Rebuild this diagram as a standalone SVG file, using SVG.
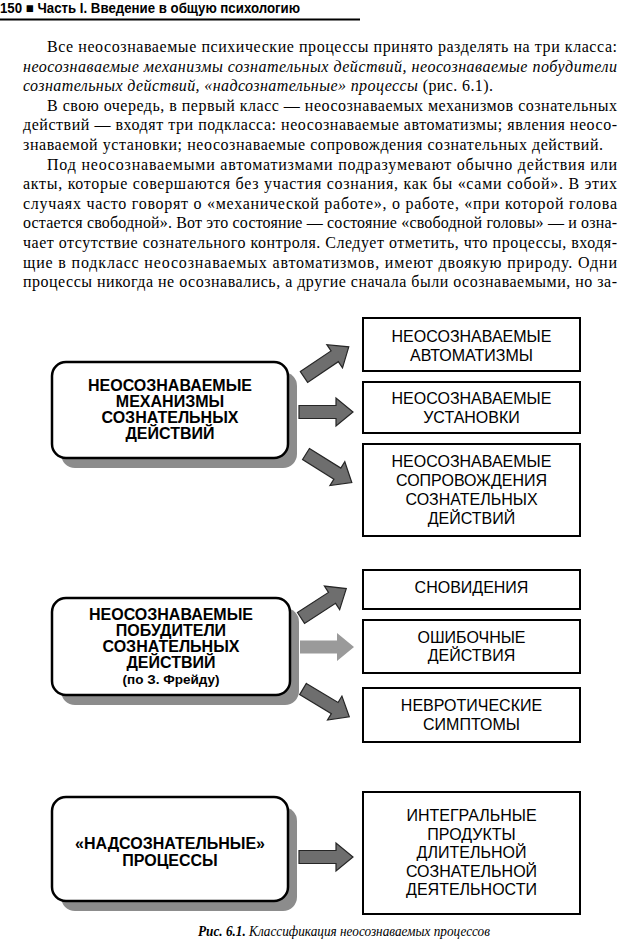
<svg xmlns="http://www.w3.org/2000/svg" width="620" height="941" viewBox="0 0 620 941">
<style>
.hdr{font-family:"Liberation Sans",Arial,sans-serif;font-weight:bold;font-size:14px;fill:#000}
.p{font-family:"Liberation Serif","Times New Roman",serif;font-size:16px;fill:#000}
.it{font-style:italic}
.lb{font-family:"Liberation Sans",Arial,sans-serif;font-weight:bold;font-size:16px;fill:#000;text-anchor:middle}
.rb{font-family:"Liberation Sans",Arial,sans-serif;font-size:16px;fill:#000;text-anchor:middle}
.sub{font-size:13.5px}
.rbox{fill:#fff;stroke:#000;stroke-width:2}
.lbox{fill:#fff;stroke:#000;stroke-width:2.5}
.shadow{fill:#8c8c8c}
.arrow{fill:#6e6e6e;stroke:#262626;stroke-width:1.2;stroke-linejoin:miter}
.arrow-light{fill:#9a9a9a;stroke:none}
.cap{font-family:"Liberation Serif","Times New Roman",serif;font-size:14.5px;font-style:italic;fill:#000}
</style>
<defs>
<path id="arr" d="M0,-6.5 H37 V-14 L54,0 L37,14 V6.5 H0 Z"/>
</defs>
<rect x="0" y="0" width="620" height="941" fill="#fff"/>

<g id="header">
<text class="hdr" x="0" y="13" textLength="300" lengthAdjust="spacingAndGlyphs">150 ■ Часть I. Введение в общую психологию</text>
<line x1="0" y1="19.5" x2="360" y2="19.5" stroke="#000" stroke-width="1.8"/>
</g>

<g id="body-text" class="p">
<text x="47" y="52" textLength="570" lengthAdjust="spacing">Все неосознаваемые психические процессы принято разделять на три класса:</text>
<text x="23" y="71.6" class="it" textLength="594" lengthAdjust="spacing">неосознаваемые механизмы сознательных действий, неосознаваемые побудители</text>
<text x="23" y="91.2" textLength="470" lengthAdjust="spacing"><tspan class="it">сознательных действий, «надсознательные» процессы</tspan> (рис. 6.1).</text>
<text x="47" y="110.8" textLength="570" lengthAdjust="spacing">В свою очередь, в первый класс — неосознаваемых механизмов сознательных</text>
<text x="23" y="130.4" textLength="594" lengthAdjust="spacing">действий — входят три подкласса: неосознаваемые автоматизмы; явления неосо-</text>
<text x="23" y="150" textLength="580" lengthAdjust="spacing">знаваемой установки; неосознаваемые сопровождения сознательных действий.</text>
<text x="47" y="169.6" textLength="570" lengthAdjust="spacing">Под неосознаваемыми автоматизмами подразумевают обычно действия или</text>
<text x="23" y="189.2" textLength="594" lengthAdjust="spacing">акты, которые совершаются без участия сознания, как бы «сами собой». В этих</text>
<text x="23" y="208.8" textLength="594" lengthAdjust="spacing">случаях часто говорят о «механической работе», о работе, «при которой голова</text>
<text x="23" y="228.4" textLength="594" lengthAdjust="spacing">остается свободной». Вот это состояние — состояние «свободной головы» — и озна-</text>
<text x="23" y="248" textLength="594" lengthAdjust="spacing">чает отсутствие сознательного контроля. Следует отметить, что процессы, входя-</text>
<text x="23" y="267.6" textLength="594" lengthAdjust="spacing">щие в подкласс неосознаваемых автоматизмов, имеют двоякую природу. Одни</text>
<text x="23" y="287.2" textLength="594" lengthAdjust="spacing">процессы никогда не осознавались, а другие сначала были осознаваемыми, но за-</text>
</g>

<g id="connectors">
<use href="#arr" class="arrow" transform="translate(304,377) rotate(-34)"/>
<use href="#arr" class="arrow" transform="translate(299,412)"/>
<use href="#arr" class="arrow" transform="translate(306,454) rotate(32)"/>
<use href="#arr" class="arrow" transform="translate(301,618) rotate(-33)"/>
<use href="#arr" class="arrow-light" transform="translate(300,647)"/>
<use href="#arr" class="arrow" transform="translate(303,689) rotate(31)"/>
<use href="#arr" class="arrow" transform="translate(299,857)"/>
</g>

<g id="node-mechanisms">
<rect class="shadow" x="61" y="372" width="236" height="96" rx="14"/>
<rect class="lbox" x="52" y="362" width="236" height="96" rx="14"/>
<text class="lb" x="170" y="391">НЕОСОЗНАВАЕМЫЕ</text>
<text class="lb" x="170" y="407">МЕХАНИЗМЫ</text>
<text class="lb" x="170" y="423">СОЗНАТЕЛЬНЫХ</text>
<text class="lb" x="170" y="439">ДЕЙСТВИЙ</text>
</g>

<g id="node-automatisms">
<rect class="rbox" x="363" y="318" width="217" height="53"/>
<text class="rb" x="471.5" y="342">НЕОСОЗНАВАЕМЫЕ</text>
<text class="rb" x="471.5" y="361">АВТОМАТИЗМЫ</text>
</g>

<g id="node-sets">
<rect class="rbox" x="363" y="382" width="217" height="51"/>
<text class="rb" x="471.5" y="404">НЕОСОЗНАВАЕМЫЕ</text>
<text class="rb" x="471.5" y="423">УСТАНОВКИ</text>
</g>

<g id="node-accompaniments">
<rect class="rbox" x="363" y="444" width="217" height="92"/>
<text class="rb" x="471.5" y="467">НЕОСОЗНАВАЕМЫЕ</text>
<text class="rb" x="471.5" y="486">СОПРОВОЖДЕНИЯ</text>
<text class="rb" x="471.5" y="505">СОЗНАТЕЛЬНЫХ</text>
<text class="rb" x="471.5" y="524">ДЕЙСТВИЙ</text>
</g>

<g id="node-motives">
<rect class="shadow" x="61" y="608" width="238" height="97" rx="14"/>
<rect class="lbox" x="52" y="598" width="238" height="97" rx="14"/>
<text class="lb" x="171" y="620">НЕОСОЗНАВАЕМЫЕ</text>
<text class="lb" x="171" y="636">ПОБУДИТЕЛИ</text>
<text class="lb" x="171" y="652">СОЗНАТЕЛЬНЫХ</text>
<text class="lb" x="171" y="668">ДЕЙСТВИЙ</text>
<text class="lb sub" x="171" y="684">(по З. Фрейду)</text>
</g>

<g id="node-dreams">
<rect class="rbox" x="363" y="570" width="217" height="39"/>
<text class="rb" x="471.5" y="593">СНОВИДЕНИЯ</text>
</g>

<g id="node-errors">
<rect class="rbox" x="363" y="620" width="217" height="53"/>
<text class="rb" x="471.5" y="643">ОШИБОЧНЫЕ</text>
<text class="rb" x="471.5" y="661">ДЕЙСТВИЯ</text>
</g>

<g id="node-symptoms">
<rect class="rbox" x="363" y="688" width="217" height="54"/>
<text class="rb" x="471.5" y="711">НЕВРОТИЧЕСКИЕ</text>
<text class="rb" x="471.5" y="730">СИМПТОМЫ</text>
</g>

<g id="node-superconscious">
<rect class="shadow" x="61" y="807" width="236" height="104" rx="14"/>
<rect class="lbox" x="52" y="797" width="236" height="104" rx="14"/>
<text class="lb" x="170" y="849">«НАДСОЗНАТЕЛЬНЫЕ»</text>
<text class="lb" x="170" y="866">ПРОЦЕССЫ</text>
</g>

<g id="node-integral">
<rect class="rbox" x="363" y="792" width="217" height="122"/>
<text class="rb" x="471.5" y="821">ИНТЕГРАЛЬНЫЕ</text>
<text class="rb" x="471.5" y="839.5">ПРОДУКТЫ</text>
<text class="rb" x="471.5" y="858">ДЛИТЕЛЬНОЙ</text>
<text class="rb" x="471.5" y="876.5">СОЗНАТЕЛЬНОЙ</text>
<text class="rb" x="471.5" y="895">ДЕЯТЕЛЬНОСТИ</text>
</g>

<g id="caption">
<text class="cap" x="198" y="936" textLength="292" lengthAdjust="spacingAndGlyphs"><tspan font-weight="bold">Рис. 6.1.</tspan> Классификация неосознаваемых процессов</text>
</g>
</svg>
